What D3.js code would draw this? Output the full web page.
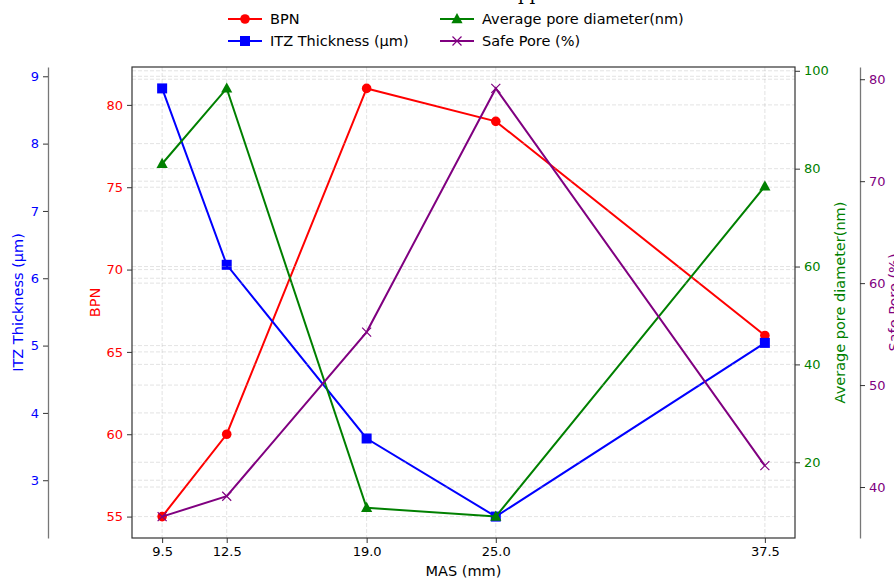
<!DOCTYPE html>
<html>
<head>
<meta charset="utf-8">
<script src="https://cdn.jsdelivr.net/npm/d3@7"></script>
<style>
  body { margin: 0; background: #fff; }
  svg { display: block; font-family: "DejaVu Sans", sans-serif; }
</style>
</head>
<body>
<svg id="chart" width="894" height="579"></svg>
<script>
// data
const masValues = [9.5, 12.5, 19.0, 25.0, 37.5];
const bpn = [55, 60, 81, 79, 66];
const itz = [8.82, 6.2, 3.62, 2.46, 5.04];
const poreDiameter = [81, 96.4, 10.7, 8.9, 76.4];
const safePore = [37.1, 39.1, 55.2, 79.1, 42.1];

const xTicks = [9.5, 12.5, 19.0, 25.0, 37.5];
const bpnTicks = [55, 60, 65, 70, 75, 80];
const itzTicks = [3, 4, 5, 6, 7, 8, 9];
const poreTicks = [20, 40, 60, 80, 100];
const safeTicks = [40, 50, 60, 70, 80];

const plotLeft = 132, plotRight = 795, plotTop = 67, plotBottom = 538;

const svg = d3.select("#chart");

// matplotlib-like 5% margins
function padded(values) {
    let [lo, hi] = d3.extent(values);
    let pad = (hi - lo) * 0.05;
    return [lo - pad, hi + pad];
}

let x = d3.scaleLinear().domain(padded(masValues)).range([plotLeft, plotRight]);

let series = [
    { name: "BPN", values: bpn, ticks: bpnTicks, color: "red", marker: "circle" },
    { name: "ITZ Thickness (μm)", values: itz, ticks: itzTicks, color: "blue", marker: "square" },
    { name: "Average pore diameter(nm)", values: poreDiameter, ticks: poreTicks, color: "green", marker: "triangle" },
    { name: "Safe Pore (%)", values: safePore, ticks: safeTicks, color: "purple", marker: "cross" }
];
series.forEach(s => {
    s.y = d3.scaleLinear().domain(padded(s.values)).range([plotBottom, plotTop]);
});

function drawMarker(g, type, cx, cy, color) {
    if (type === "circle") {
        g.append("circle").attr("cx", cx).attr("cy", cy).attr("r", 4.8).attr("fill", color);
    } else if (type === "square") {
        g.append("rect").attr("x", cx - 5).attr("y", cy - 5).attr("width", 10).attr("height", 10).attr("fill", color);
    } else if (type === "triangle") {
        g.append("path")
            .attr("d", `M${cx},${cy - 6}L${cx + 5.6},${cy + 4.2}L${cx - 5.6},${cy + 4.2}Z`)
            .attr("fill", color);
    } else {
        g.append("path")
            .attr("d", `M${cx - 4.5},${cy - 4.5}L${cx + 4.5},${cy + 4.5}M${cx - 4.5},${cy + 4.5}L${cx + 4.5},${cy - 4.5}`)
            .attr("stroke", color).attr("stroke-width", 1.2).attr("fill", "none");
    }
}

// vertical grid
let grid = svg.append("g");
xTicks.forEach(t => {
    grid.append("line")
        .attr("x1", x(t)).attr("x2", x(t)).attr("y1", plotTop).attr("y2", plotBottom)
        .attr("stroke", "#b0b0b0").attr("stroke-opacity", 0.45)
        .attr("stroke-width", 0.8).attr("stroke-dasharray", "4,2");
});

// each twin axis: grid then its line
series.forEach(s => {
    let g = svg.append("g");
    s.ticks.forEach(t => {
        g.append("line")
            .attr("x1", plotLeft).attr("x2", plotRight).attr("y1", s.y(t)).attr("y2", s.y(t))
            .attr("stroke", "#b0b0b0").attr("stroke-opacity", 0.45)
            .attr("stroke-width", 0.8).attr("stroke-dasharray", "4,2");
    });
    let line = d3.line().x((d, i) => x(masValues[i])).y(d => s.y(d));
    g.append("path")
        .attr("d", line(s.values))
        .attr("fill", "none")
        .attr("stroke", s.color)
        .attr("stroke-width", 2);
    s.values.forEach((v, i) => drawMarker(g, s.marker, x(masValues[i]), s.y(v), s.color));
});

// frame
svg.append("rect")
    .attr("x", plotLeft).attr("y", plotTop)
    .attr("width", plotRight - plotLeft).attr("height", plotBottom - plotTop)
    .attr("fill", "none").attr("stroke", "#333").attr("stroke-width", 1.2);

function styleAxis(g, labelColor) {
    g.select(".domain").attr("stroke", "#777").attr("stroke-width", 1.3);
    g.selectAll(".tick line").attr("stroke", "#333");
    g.selectAll(".tick text")
        .attr("fill", labelColor)
        .style("font-size", "13px")
        .style("font-family", "DejaVu Sans");
}

// x axis
let xAxis = svg.append("g")
    .attr("transform", `translate(0,${plotBottom})`)
    .call(d3.axisBottom(x).tickValues(xTicks).tickFormat(d3.format(".1f")).tickSize(5).tickPadding(4).tickSizeOuter(0));
styleAxis(xAxis, "#000");
xAxis.select(".domain").remove();

svg.append("text")
    .attr("x", (plotLeft + plotRight) / 2).attr("y", 576)
    .attr("text-anchor", "middle")
    .style("font-size", "14.5px")
    .text("MAS (mm)");

// y axes: BPN on left spine, ITZ further left, pore on right spine, safe pore further right
let axisSpecs = [
    { s: series[0], pos: plotLeft, gen: d3.axisLeft, labelX: 95, spine: false },
    { s: series[1], pos: 48, gen: d3.axisLeft, labelX: 18, spine: true },
    { s: series[2], pos: plotRight, gen: d3.axisRight, labelX: 840, spine: false },
    { s: series[3], pos: 860, gen: d3.axisRight, labelX: 894, spine: true }
];

axisSpecs.forEach(a => {
    let g = svg.append("g")
        .attr("transform", `translate(${a.pos},0)`)
        .call(a.gen(a.s.y).tickValues(a.s.ticks).tickFormat(d3.format("d"))
            .tickSize(5).tickPadding(4).tickSizeOuter(0));
    styleAxis(g, a.s.color);
    if (!a.spine) g.select(".domain").remove();

    svg.append("text")
        .attr("transform", `translate(${a.labelX},${(plotTop + plotBottom) / 2}) rotate(-90)`)
        .attr("text-anchor", "middle")
        .attr("dy", "0.35em")
        .attr("fill", a.s.color)
        .style("font-size", "14.5px")
        .text(a.s.name);
});

// legend, two columns above the plot
let legendPos = [[228, 19], [228, 41], [440, 19], [440, 41]];
series.forEach((s, i) => {
    let [lx, ly] = legendPos[i];
    let g = svg.append("g");
    g.append("line")
        .attr("x1", lx).attr("x2", lx + 34).attr("y1", ly).attr("y2", ly)
        .attr("stroke", s.color).attr("stroke-width", 2);
    drawMarker(g, s.marker, lx + 17, ly, s.color);
    g.append("text")
        .attr("x", lx + 42).attr("y", ly)
        .attr("dy", "0.35em")
        .style("font-size", "14.5px")
        .text(s.name);
});

// title, mostly cut off at the top of the figure
let title = svg.append("text")
    .attr("y", 0)
    .style("font-family", "DejaVu Serif")
    .style("font-size", "18px")
    .text("Results of MAS Approach");
let node = title.node();
let idx = node.textContent.indexOf("pp");
title.attr("x", 518 - node.getSubStringLength(0, idx));
</script>
</body>
</html>
